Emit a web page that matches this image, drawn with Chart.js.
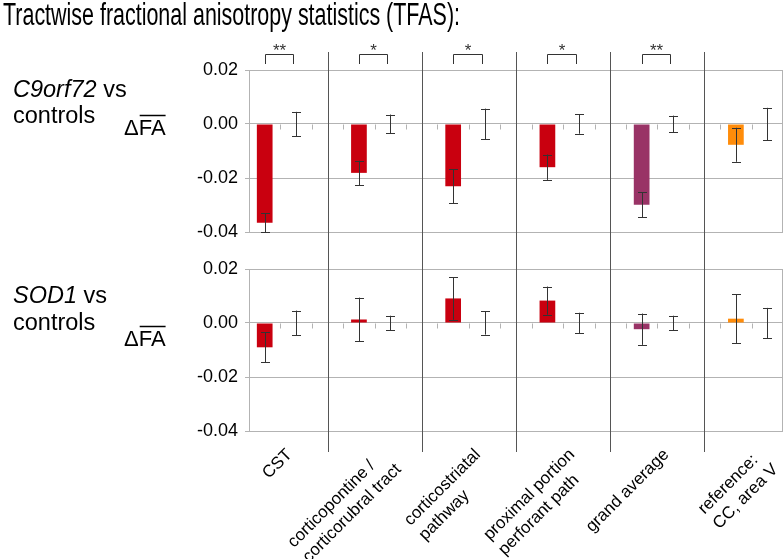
<!DOCTYPE html>
<html>
<head>
<meta charset="utf-8">
<script src="https://cdn.jsdelivr.net/npm/chart.js@4"></script>
<style>
  html, body { margin: 0; padding: 0; background: #fff; }
  #wrap { position: relative; width: 784px; height: 559px; overflow: hidden; }
  canvas { position: absolute; left: 0; }
  #top { top: 0; }
  #bottom { top: 250px; }
</style>
</head>
<body>
<div id="wrap">
  <canvas id="top" width="784" height="250"></canvas>
  <canvas id="bottom" width="784" height="309"></canvas>
</div>
<script>
// ── Data ─────────────────────────────────────────────────────

const tracts = [
    ['CST'],
    ['corticopontine /', 'corticorubral tract'],
    ['corticostriatal', 'pathway'],
    ['proximal portion', 'perforant path'],
    ['grand average'],
    ['reference:', 'CC, area V'],
];
const barColors = ['#c9000f', '#c9000f', '#c9000f', '#c9000f', '#993366', '#ff8c0a'];

// C9orf72 vs controls: mean ΔFA, error bar half-width, control error half-width
const c9Mean    = [-0.0366, -0.0181, -0.0231, -0.0160, -0.0299, -0.0077];
const c9Err     = [ 0.0035,  0.0045,  0.0063,  0.0047,  0.0047,  0.0063];
const c9CtrlErr = [ 0.0045,  0.0035,  0.0057,  0.0036,  0.0031,  0.0060];
const c9Stars   = ['**', '*', '*', '*', '**', ''];

// SOD1 vs controls
const sodMean    = [-0.0090,  0.0013,  0.0091,  0.0083, -0.0023,  0.0016];
const sodErr     = [ 0.0055,  0.0081,  0.0079,  0.0052,  0.0058,  0.0090];
const sodCtrlErr = [ 0.0046,  0.0027,  0.0043,  0.0038,  0.0027,  0.0056];

const yTicks = [0.02, 0.00, -0.02, -0.04];

// ── Helpers ──────────────────────────────────────────────────

const FONT = "'Liberation Sans', Arial, sans-serif";
const GRID = '#b3b3b3';
const INK  = '#333333';
const SEP  = '#555555';

// 3 slots per tract: patient bar, control, gap (last gap dropped)
const slotLabels = [];
tracts.forEach((t, i) => {
    slotLabels.push('', '');
    if (i < tracts.length - 1) slotLabels.push('');
});

function slotData(means) {
    const out = slotLabels.map(() => null);
    means.forEach((m, i) => { out[3 * i] = m; });
    return out;
}

function slotColors() {
    const out = slotLabels.map(() => 'rgba(0,0,0,0)');
    barColors.forEach((c, i) => { out[3 * i] = c; });
    return out;
}

function line(ctx, x1, y1, x2, y2) {
    ctx.beginPath();
    ctx.moveTo(x1, y1);
    ctx.lineTo(x2, y2);
    ctx.stroke();
}

function errorBar(ctx, x, yTop, yBot) {
    const cx = Math.round(x) + 0.5;
    line(ctx, cx, yTop, cx, yBot);
    line(ctx, cx - 4.5, Math.round(yTop) + 0.5, cx + 4.5, Math.round(yTop) + 0.5);
    line(ctx, cx - 4.5, Math.round(yBot) + 0.5, cx + 4.5, Math.round(yBot) + 0.5);
}

function drawDeltaFA(ctx, x, base) {
    ctx.font = `22px ${FONT}`;
    ctx.textAlign = 'left';
    ctx.textBaseline = 'alphabetic';
    const dW = ctx.measureText('\u0394').width;
    const faW = ctx.measureText('FA').width;
    ctx.fillText('\u0394FA', x, base);
    ctx.lineWidth = 1.5;
    line(ctx, x + dW + 1, base - 19.5, x + dW + faW, base - 19.5);
}

function drawGroupLabel(ctx, italic, base1, base2) {
    ctx.fillStyle = '#000';
    ctx.textAlign = 'left';
    ctx.textBaseline = 'alphabetic';
    ctx.font = `italic 23.5px ${FONT}`;
    ctx.fillText(italic, 13, base1);
    const w = ctx.measureText(italic).width;
    ctx.font = `23.5px ${FONT}`;
    ctx.fillText(' vs', 13 + w, base1);
    ctx.fillText('controls', 13, base2);
}

// ── Panel plugin: frame, ticks on zero line, error bars, separators ──

function panelPlugin(cfg) {
    return {
        id: 'panel',
        afterDatasetsDraw(chart) {
            const ctx = chart.ctx;
            const xs  = chart.scales.x;
            const ys  = chart.scales.y;
            const area = chart.chartArea;

            ctx.save();
            ctx.strokeStyle = GRID;
            ctx.lineWidth = 1;
            const rx = Math.round(area.right) - 0.5;
            line(ctx, rx, area.top, rx, area.bottom);

            // small ticks along the zero line at slot boundaries
            const y0 = Math.round(ys.getPixelForValue(0)) + 0.5;
            for (let k = 1; k < slotLabels.length; k++) {
                const bx = Math.round((xs.getPixelForValue(k - 1) + xs.getPixelForValue(k)) / 2) + 0.5;
                line(ctx, bx, y0, bx, y0 + 5);
            }

            // error bars
            ctx.strokeStyle = INK;
            cfg.means.forEach((m, i) => {
                const xp = xs.getPixelForValue(3 * i);
                errorBar(ctx, xp, ys.getPixelForValue(m + cfg.err[i]), ys.getPixelForValue(m - cfg.err[i]));
                const xc = xs.getPixelForValue(3 * i + 1);
                errorBar(ctx, xc, ys.getPixelForValue(cfg.ctrlErr[i]), ys.getPixelForValue(-cfg.ctrlErr[i]));
            });

            // separators between tracts
            ctx.strokeStyle = SEP;
            for (let i = 0; i < tracts.length - 1; i++) {
                const sx = Math.round(xs.getPixelForValue(3 * i + 2)) + 0.5;
                line(ctx, sx, cfg.sepTop, sx, cfg.sepBottom);
            }

            // significance brackets
            if (cfg.stars) {
                ctx.strokeStyle = INK;
                ctx.fillStyle = INK;
                ctx.font = `17px ${FONT}`;
                ctx.textAlign = 'center';
                ctx.textBaseline = 'alphabetic';
                cfg.stars.forEach((s, i) => {
                    if (!s) return;
                    const x1 = Math.round(xs.getPixelForValue(3 * i)) + 0.5;
                    const x2 = Math.round(xs.getPixelForValue(3 * i + 1)) - 2.5;
                    ctx.beginPath();
                    ctx.moveTo(x1, 64);
                    ctx.lineTo(x1, 54.5);
                    ctx.lineTo(x2, 54.5);
                    ctx.lineTo(x2, 64);
                    ctx.stroke();
                    ctx.fillText(s, (x1 + x2) / 2, 56);
                });
            }

            // text outside the plot
            cfg.text(ctx, chart);
            ctx.restore();
        },
    };
}

function makePanel(canvasId, cfg) {
    return new Chart(document.getElementById(canvasId), {
        type: 'bar',
        data: {
            labels: slotLabels,
            datasets: [{
                data: slotData(cfg.means),
                backgroundColor: slotColors(),
                borderWidth: 0,
                categoryPercentage: 1,
                barPercentage: 0.5,
                skipNull: true,
            }],
        },
        options: {
            responsive: false,
            animation: false,
            devicePixelRatio: 1,
            layout: { padding: { top: cfg.padTop, bottom: cfg.padBottom, left: 0, right: 1 } },
            plugins: {
                legend: { display: false },
                tooltip: { enabled: false },
            },
            scales: {
                x: { display: false, offset: true },
                y: {
                    min: -0.04,
                    max: 0.02,
                    afterFit: scale => { scale.width = 249; },
                    afterBuildTicks: scale => { scale.ticks = yTicks.map(v => ({ value: v })); },
                    grid: { color: GRID, tickLength: 4, tickColor: GRID },
                    border: { color: GRID },
                    ticks: {
                        font: { family: FONT, size: 18 },
                        color: '#000',
                        padding: 7,
                        callback: v => v.toFixed(2),
                    },
                },
            },
        },
        plugins: [panelPlugin(cfg)],
    });
}

// ── Top panel: C9orf72 ───────────────────────────────────────

makePanel('top', {
    means: c9Mean,
    err: c9Err,
    ctrlErr: c9CtrlErr,
    stars: c9Stars,
    padTop: 70,
    padBottom: 18,
    sepTop: 52,
    sepBottom: 250,
    text(ctx) {
        // title, narrow face squeezed to the reference width
        ctx.fillStyle = '#000';
        ctx.textAlign = 'left';
        ctx.textBaseline = 'alphabetic';
        ctx.font = `31px 'Liberation Sans Narrow', ${FONT}`;
        const title = 'Tractwise fractional anisotropy statistics (TFAS):';
        const w = ctx.measureText(title).width;
        ctx.save();
        ctx.translate(3, 25);
        ctx.scale(457 / w, 1);
        ctx.fillText(title, 0, 0);
        ctx.restore();

        drawGroupLabel(ctx, 'C9orf72', 97, 123);
        ctx.strokeStyle = '#000';
        ctx.fillStyle = '#000';
        drawDeltaFA(ctx, 124, 135);
    },
});

// ── Bottom panel: SOD1 + tract labels ────────────────────────

makePanel('bottom', {
    means: sodMean,
    err: sodErr,
    ctrlErr: sodCtrlErr,
    stars: null,
    padTop: 19,
    padBottom: 128,
    sepTop: 0,
    sepBottom: 202,
    text(ctx, chart) {
        drawGroupLabel(ctx, 'SOD1', 53, 80);
        ctx.strokeStyle = '#000';
        ctx.fillStyle = '#000';
        drawDeltaFA(ctx, 124, 96);

        // rotated tract names, lines left-aligned, block's top-right at the anchor
        const xs = chart.scales.x;
        const lh = 21;
        ctx.font = `17px ${FONT}`;
        ctx.fillStyle = '#000';
        ctx.textAlign = 'left';
        ctx.textBaseline = 'top';
        tracts.forEach((lines, i) => {
            const cx = (xs.getPixelForValue(3 * i) + xs.getPixelForValue(3 * i + 1)) / 2;
            const maxW = Math.max(...lines.map(t => ctx.measureText(t).width));
            ctx.save();
            ctx.translate(cx + 3, 196);
            ctx.rotate(-Math.PI / 4);
            lines.forEach((t, j) => ctx.fillText(t, -maxW, j * lh));
            ctx.restore();
        });
    },
});
</script>
</body>
</html>
